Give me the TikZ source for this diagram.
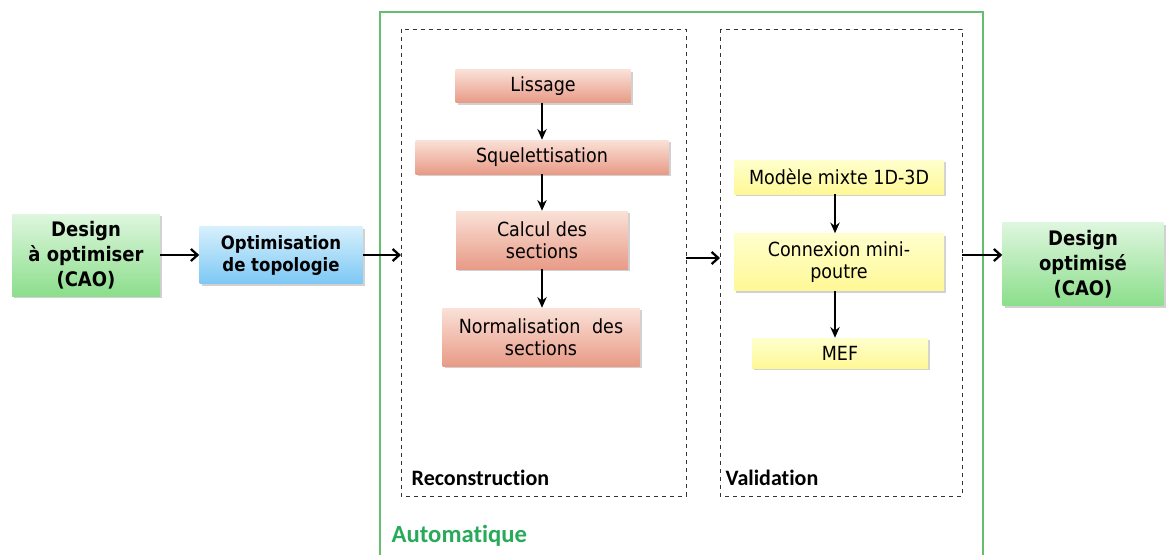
\documentclass[tikz,border=0pt]{standalone}
\usepackage{fontspec}
\setmainfont{DejaVu Sans Condensed}
\newfontfamily\calib[Ligatures={NoCommon,NoContextual}]{Carlito}
\usetikzlibrary{arrows.meta,shadows}
\definecolor{autogreen}{RGB}{40,170,90}
\definecolor{framegreen}{RGB}{100,190,110}
\tikzset{
  px/.style={x=0.75pt,y=-0.75pt},
  boxbase/.style={inner sep=0pt, align=center, drop shadow={shadow xshift=1.5pt,shadow yshift=-1.5pt,fill=gray!60,opacity=0.6}},
  greenbox/.style={boxbase, top color={rgb,255:red,222;green,246;blue,222}, bottom color={rgb,255:red,140;green,222;blue,140}, font=\bfseries\fontsize{15}{18.75}\selectfont},
  bluebox/.style={boxbase, top color={rgb,255:red,215;green,240;blue,252}, bottom color={rgb,255:red,125;green,200;blue,245}, font=\bfseries\fontsize{13.8}{16.5}\selectfont},
  pinkbox/.style={boxbase, top color={rgb,255:red,250;green,225;blue,215}, bottom color={rgb,255:red,232;green,155;blue,135}, font=\fontsize{14.6}{16.5}\selectfont},
  yellowbox/.style={boxbase, top color={rgb,255:red,255;green,255;blue,205}, bottom color={rgb,255:red,255;green,248;blue,150}, font=\fontsize{14.6}{16.5}\selectfont},
  harrow/.style={line width=1.7pt, -{Straight Barb[length=5pt,width=9pt,line width=1.7pt]}},
  varrow/.style={line width=1.6pt, -{Stealth[length=8pt,width=7pt]}},
  dashbox/.style={draw=black!80, dashed, line width=0.6pt},
  seclabel/.style={anchor=west, font=\calib\bfseries\fontsize{16.5}{18}\selectfont}
}
\begin{document}
\begin{tikzpicture}[px]
\useasboundingbox (0,0) rectangle (1173,554);
% outer automatic frame
\draw[framegreen, line width=2.2pt] (380,560) -- (380,12) -- (983,12) -- (983,560);
\draw[dashbox] (401,29) rectangle (686,496);
\draw[dashbox] (720,29) rectangle (962,496);
\node[seclabel] (lrec) at (407,478) {Reconstruction};
\node[seclabel] (lval) at (721,478) {Validation};
\node[seclabel, text=autogreen, font=\calib\bfseries\fontsize{18.5}{20}\selectfont] (lauto) at (387,536) {Automatique};
\coordinate (recin) at (401,255);
\coordinate (recout) at (686,258);
\coordinate (valin) at (720,258);
\coordinate (valout) at (962,255);

% left boxes
\node[greenbox, minimum width=148*0.75pt, minimum height=82*0.75pt] (design) at (86,255) {Design\\à optimiser\\(CAO)};
\node[bluebox, minimum width=163*0.75pt, minimum height=57*0.75pt] (topo) at (281,255) {Optimisation\\de topologie};
\node[greenbox, minimum width=161*0.75pt, minimum height=83*0.75pt] (final) at (1083,264) {Design\\optimisé\\(CAO)};

% reconstruction
\node[pinkbox, minimum width=175*0.75pt, minimum height=33*0.75pt] (liss) at (543,86) {Lissage};
\node[pinkbox, minimum width=253*0.75pt, minimum height=34*0.75pt] (sque) at (542,157) {Squelettisation};
\node[pinkbox, minimum width=172*0.75pt, minimum height=58*0.75pt] (calc) at (542,240) {Calcul des\\sections};
\node[pinkbox, minimum width=197*0.75pt, minimum height=58*0.75pt] (norm) at (541,337) {Normalisation\hspace{0.6em}des\\sections};

% validation
\node[yellowbox, minimum width=210*0.75pt, minimum height=34*0.75pt] (mod) at (839,177) {Modèle mixte 1D-3D};
\node[yellowbox, minimum width=210*0.75pt, minimum height=57*0.75pt] (conn) at (839,262) {Connexion mini-\\poutre};
\node[yellowbox, minimum width=176*0.75pt, minimum height=30*0.75pt] (mef) at (840,353) {MEF};

% arrows
\draw[harrow] (design.east) -- (topo.west);
\draw[harrow] (topo.east) -- (recin);
\draw[harrow] (recout) -- (valin);
\draw[harrow] (valout) -- (final.west |- valout);
\draw[varrow] (liss.south -| 542,0) -- (sque.north -| 542,0);
\draw[varrow] (sque.south -| 542,0) -- (calc.north -| 542,0);
\draw[varrow] (calc.south -| 542,0) -- (norm.north -| 542,0);
\draw[varrow] (mod.south -| 835,0) -- (conn.north -| 835,0);
\draw[varrow] (conn.south -| 835,0) -- (mef.north -| 835,0);
\end{tikzpicture}
\end{document}
